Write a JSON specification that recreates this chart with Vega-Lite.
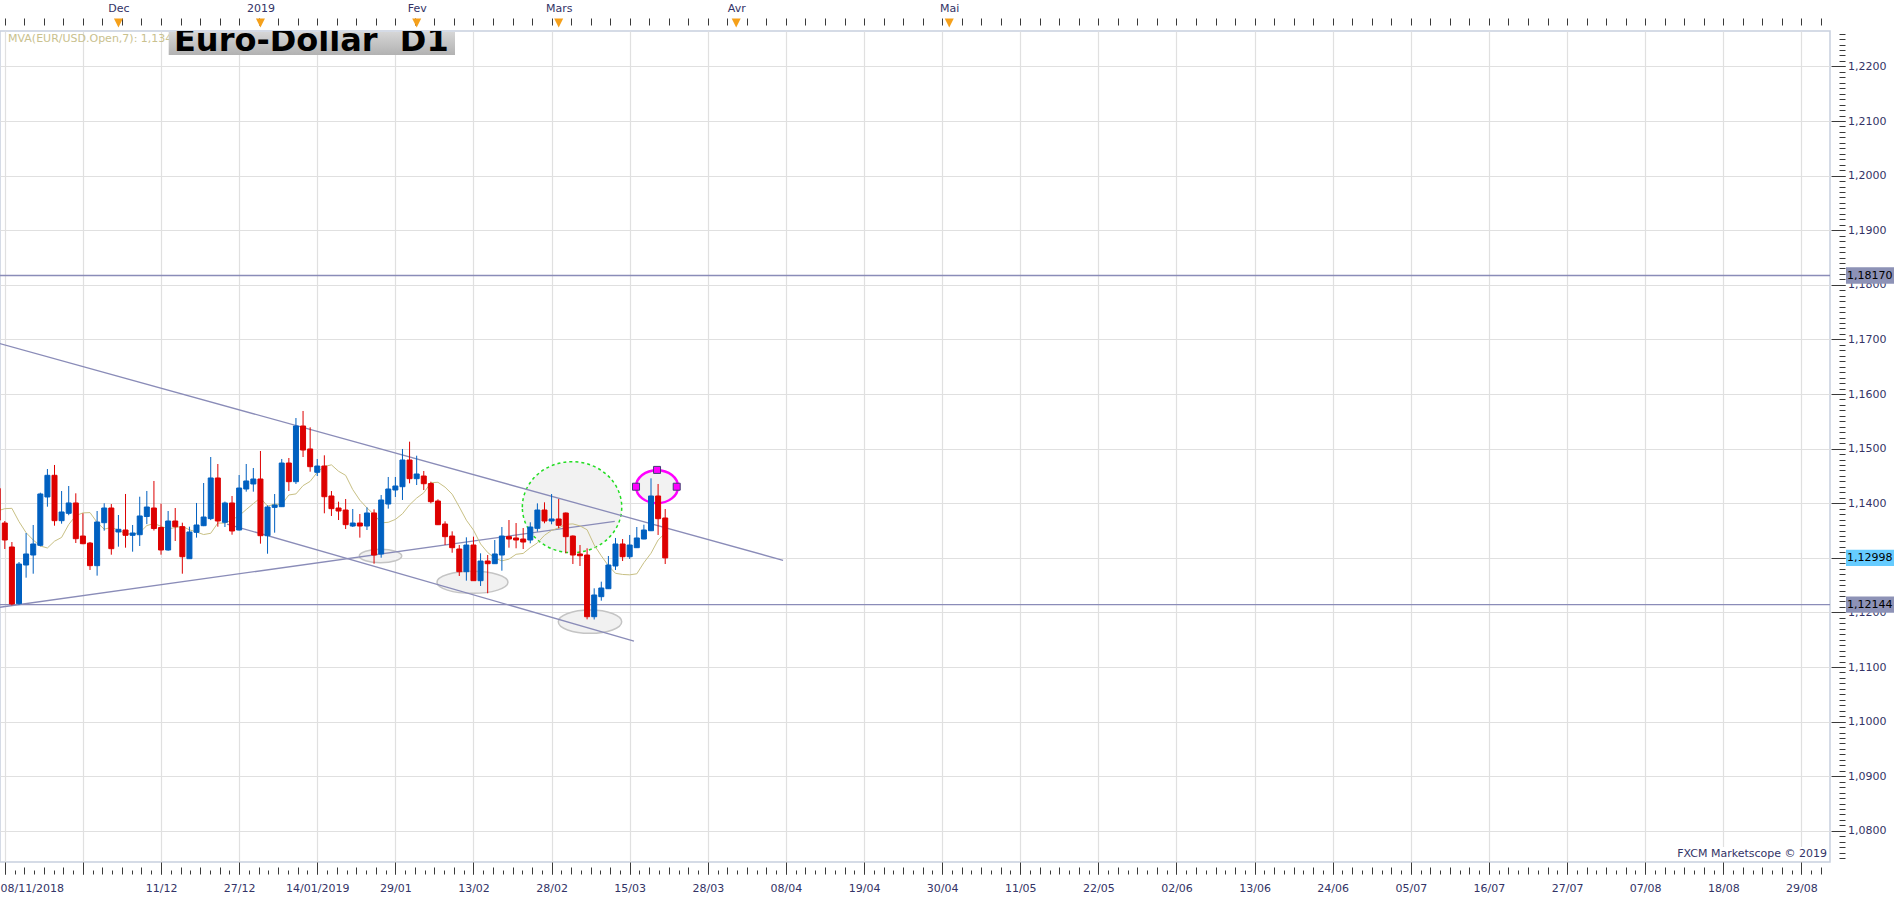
{
  "$schema": "https://vega.github.io/schema/vega-lite/v6.json",
  "width": 1830,
  "height": 831,
  "autosize": "none",
  "padding": {"left": 0, "top": 31, "right": 73, "bottom": 38},
  "background": "#ffffff",
  "config": {
    "view": {"stroke": "#c8d0de", "strokeWidth": 1.5},
    "font": "DejaVu Sans",
    "scale": {"continuousPadding": 0},
    "axis": {"labelFont": "DejaVu Sans", "labelFontSize": 11, "labelColor": "#333366", "tickColor": "#3a3a3a", "domainColor": "#3a3a3a", "gridColor": "#e0e0e0", "gridWidth": 1.2, "title": null}
  },
  "datasets": {
    "candles": [
      {"s":-1,"o":1.1427,"h":1.1440,"l":1.1360,"c":1.1369,"ma":1.1386},
      {"s":0,"o":1.13637,"h":1.13674,"l":1.13161,"c":1.13326,"ma":1.139},
      {"s":1,"o":1.13198,"h":1.13289,"l":1.1213,"c":1.12154,"ma":1.13906},
      {"s":2,"o":1.1216,"h":1.12923,"l":1.1214,"c":1.12886,"ma":1.13662},
      {"s":3,"o":1.12868,"h":1.13454,"l":1.12636,"c":1.1307,"ma":1.1346},
      {"s":4,"o":1.13051,"h":1.13601,"l":1.12709,"c":1.13253,"ma":1.13326},
      {"s":5,"o":1.13229,"h":1.14193,"l":1.1321,"c":1.14169,"ma":1.13216},
      {"s":6,"o":1.14114,"h":1.14626,"l":1.13936,"c":1.14511,"ma":1.1318},
      {"s":7,"o":1.14511,"h":1.147,"l":1.13588,"c":1.1368,"ma":1.13304},
      {"s":8,"o":1.1368,"h":1.14223,"l":1.13625,"c":1.13839,"ma":1.13373},
      {"s":9,"o":1.13815,"h":1.14315,"l":1.1378,"c":1.14004,"ma":1.1361},
      {"s":10,"o":1.14004,"h":1.14181,"l":1.13271,"c":1.1335,"ma":1.13772},
      {"s":11,"o":1.13399,"h":1.13815,"l":1.1325,"c":1.13258,"ma":1.13822},
      {"s":12,"o":1.1327,"h":1.1329,"l":1.12777,"c":1.12856,"ma":1.13828},
      {"s":13,"o":1.12856,"h":1.13857,"l":1.12673,"c":1.13656,"ma":1.13648},
      {"s":14,"o":1.13643,"h":1.13998,"l":1.13497,"c":1.13912,"ma":1.13524},
      {"s":15,"o":1.13912,"h":1.13985,"l":1.13057,"c":1.13167,"ma":1.13557},
      {"s":16,"o":1.13473,"h":1.13784,"l":1.13204,"c":1.13522,"ma":1.13508},
      {"s":17,"o":1.13509,"h":1.14169,"l":1.13185,"c":1.13412,"ma":1.13437},
      {"s":18,"o":1.13412,"h":1.13601,"l":1.13112,"c":1.13454,"ma":1.13439},
      {"s":19,"o":1.13423,"h":1.14119,"l":1.13216,"c":1.13766,"ma":1.13461},
      {"s":20,"o":1.13756,"h":1.14224,"l":1.13617,"c":1.1393,"ma":1.1359},
      {"s":21,"o":1.13912,"h":1.14407,"l":1.135,"c":1.13536,"ma":1.13628},
      {"s":22,"o":1.13555,"h":1.13991,"l":1.13057,"c":1.13143,"ma":1.13577},
      {"s":23,"o":1.13143,"h":1.13857,"l":1.1313,"c":1.13674,"ma":1.1353},
      {"s":24,"o":1.13674,"h":1.13912,"l":1.13308,"c":1.1357,"ma":1.13554},
      {"s":25,"o":1.1357,"h":1.13643,"l":1.12709,"c":1.1302,"ma":1.13576},
      {"s":26,"o":1.12984,"h":1.1357,"l":1.1298,"c":1.13473,"ma":1.13513},
      {"s":27,"o":1.13467,"h":1.14004,"l":1.13369,"c":1.13601,"ma":1.13472},
      {"s":28,"o":1.13588,"h":1.1437,"l":1.1358,"c":1.13747,"ma":1.13426},
      {"s":29,"o":1.13717,"h":1.14846,"l":1.1369,"c":1.14462,"ma":1.13449},
      {"s":30,"o":1.14462,"h":1.14718,"l":1.1357,"c":1.13674,"ma":1.13637},
      {"s":31,"o":1.1365,"h":1.1403,"l":1.13564,"c":1.14004,"ma":1.13634},
      {"s":32,"o":1.14004,"h":1.14132,"l":1.13423,"c":1.13491,"ma":1.13696},
      {"s":33,"o":1.13509,"h":1.14516,"l":1.135,"c":1.14278,"ma":1.13771},
      {"s":34,"o":1.1426,"h":1.14718,"l":1.14211,"c":1.14407,"ma":1.13884},
      {"s":35,"o":1.14352,"h":1.14645,"l":1.14211,"c":1.14443,"ma":1.13993},
      {"s":36,"o":1.14443,"h":1.14956,"l":1.13259,"c":1.13405,"ma":1.14097},
      {"s":37,"o":1.13405,"h":1.1396,"l":1.13075,"c":1.1393,"ma":1.13946},
      {"s":38,"o":1.13924,"h":1.14168,"l":1.1346,"c":1.13967,"ma":1.13985},
      {"s":39,"o":1.13936,"h":1.1481,"l":1.1393,"c":1.14736,"ma":1.13976},
      {"s":40,"o":1.14736,"h":1.14828,"l":1.14223,"c":1.14394,"ma":1.14151},
      {"s":41,"o":1.14394,"h":1.1556,"l":1.14352,"c":1.15414,"ma":1.1417},
      {"s":42,"o":1.15414,"h":1.15689,"l":1.14846,"c":1.14974,"ma":1.14322},
      {"s":43,"o":1.14993,"h":1.1539,"l":1.14577,"c":1.14669,"ma":1.144},
      {"s":44,"o":1.14566,"h":1.1481,"l":1.14498,"c":1.14681,"ma":1.14566},
      {"s":45,"o":1.14681,"h":1.14877,"l":1.13815,"c":1.14119,"ma":1.14674},
      {"s":46,"o":1.14132,"h":1.14223,"l":1.13766,"c":1.139,"ma":1.14702},
      {"s":47,"o":1.13912,"h":1.14028,"l":1.13692,"c":1.13857,"ma":1.14585},
      {"s":48,"o":1.13875,"h":1.14077,"l":1.13527,"c":1.13607,"ma":1.1451},
      {"s":49,"o":1.13582,"h":1.13894,"l":1.13564,"c":1.13637,"ma":1.14249},
      {"s":50,"o":1.13637,"h":1.13802,"l":1.13369,"c":1.13582,"ma":1.14055},
      {"s":51,"o":1.13582,"h":1.13924,"l":1.13509,"c":1.13821,"ma":1.13914},
      {"s":52,"o":1.13821,"h":1.13888,"l":1.12892,"c":1.13051,"ma":1.13792},
      {"s":53,"o":1.1307,"h":1.1415,"l":1.13002,"c":1.14059,"ma":1.1364},
      {"s":54,"o":1.13985,"h":1.1448,"l":1.139,"c":1.1426,"ma":1.1365},
      {"s":55,"o":1.14242,"h":1.1448,"l":1.14114,"c":1.14315,"ma":1.13703},
      {"s":56,"o":1.14302,"h":1.14993,"l":1.14059,"c":1.14791,"ma":1.13806},
      {"s":57,"o":1.14791,"h":1.15127,"l":1.14364,"c":1.14449,"ma":1.1397},
      {"s":58,"o":1.14449,"h":1.1487,"l":1.14333,"c":1.14535,"ma":1.14094},
      {"s":59,"o":1.14498,"h":1.1459,"l":1.14242,"c":1.14357,"ma":1.14191},
      {"s":60,"o":1.1436,"h":1.14394,"l":1.13998,"c":1.14028,"ma":1.14375},
      {"s":61,"o":1.1404,"h":1.14071,"l":1.136,"c":1.13606,"ma":1.14383},
      {"s":62,"o":1.13619,"h":1.13668,"l":1.13234,"c":1.13387,"ma":1.14294},
      {"s":63,"o":1.13399,"h":1.13485,"l":1.13093,"c":1.13185,"ma":1.14165},
      {"s":64,"o":1.13161,"h":1.13234,"l":1.12667,"c":1.12746,"ma":1.13932},
      {"s":65,"o":1.12746,"h":1.13375,"l":1.12581,"c":1.13234,"ma":1.13689},
      {"s":66,"o":1.13234,"h":1.13387,"l":1.1258,"c":1.12581,"ma":1.13508},
      {"s":67,"o":1.12581,"h":1.13082,"l":1.12484,"c":1.12941,"ma":1.13254},
      {"s":68,"o":1.12941,"h":1.13051,"l":1.1235,"c":1.12892,"ma":1.13097},
      {"s":69,"o":1.12892,"h":1.13326,"l":1.1289,"c":1.1307,"ma":1.12993},
      {"s":70,"o":1.13051,"h":1.13564,"l":1.12764,"c":1.13399,"ma":1.12944},
      {"s":71,"o":1.13387,"h":1.13692,"l":1.13185,"c":1.13344,"ma":1.12976},
      {"s":72,"o":1.13363,"h":1.13637,"l":1.13174,"c":1.13326,"ma":1.13064},
      {"s":73,"o":1.13344,"h":1.13546,"l":1.13161,"c":1.13289,"ma":1.1308},
      {"s":74,"o":1.13326,"h":1.1365,"l":1.13265,"c":1.13564,"ma":1.13186},
      {"s":75,"o":1.1354,"h":1.13998,"l":1.13479,"c":1.13875,"ma":1.13272},
      {"s":76,"o":1.13875,"h":1.14016,"l":1.13632,"c":1.13674,"ma":1.13412},
      {"s":77,"o":1.13674,"h":1.14168,"l":1.13614,"c":1.13711,"ma":1.13501},
      {"s":78,"o":1.13711,"h":1.14077,"l":1.1354,"c":1.13595,"ma":1.13548},
      {"s":79,"o":1.1382,"h":1.1383,"l":1.13082,"c":1.13387,"ma":1.13613},
      {"s":80,"o":1.13399,"h":1.1341,"l":1.12886,"c":1.13051,"ma":1.13621},
      {"s":81,"o":1.1307,"h":1.13234,"l":1.1285,"c":1.13038,"ma":1.13584},
      {"s":82,"o":1.13051,"h":1.13174,"l":1.11873,"c":1.11921,"ma":1.13514},
      {"s":83,"o":1.11921,"h":1.12441,"l":1.1187,"c":1.12319,"ma":1.13235},
      {"s":84,"o":1.12288,"h":1.12563,"l":1.12214,"c":1.12447,"ma":1.13037},
      {"s":85,"o":1.12434,"h":1.13033,"l":1.1243,"c":1.12868,"ma":1.12855},
      {"s":86,"o":1.1285,"h":1.13363,"l":1.12777,"c":1.13253,"ma":1.12716},
      {"s":87,"o":1.13253,"h":1.13344,"l":1.12941,"c":1.1302,"ma":1.12695},
      {"s":88,"o":1.1302,"h":1.13418,"l":1.12978,"c":1.13234,"ma":1.12688},
      {"s":89,"o":1.13185,"h":1.13564,"l":1.1318,"c":1.13363,"ma":1.12707},
      {"s":90,"o":1.13344,"h":1.13606,"l":1.1334,"c":1.13509,"ma":1.12911},
      {"s":91,"o":1.13496,"h":1.14455,"l":1.1349,"c":1.14132,"ma":1.13083},
      {"s":92,"o":1.14132,"h":1.14352,"l":1.13418,"c":1.13716,"ma":1.13326},
      {"s":93,"o":1.13729,"h":1.13894,"l":1.12886,"c":1.12998,"ma":1.13451}
    ],
    "trend": [
      {"id":"upper","s":-1,"p":1.16934},{"id":"upper","s":109.6,"p":1.12954},
      {"id":"lower","s":31.29,"p":1.13619},{"id":"lower","s":88.6,"p":1.11476},
      {"id":"rising","s":-1,"p":1.12088},{"id":"rising","s":85.9,"p":1.13669}
    ],
    "levels": [{"p":1.1817},{"p":1.12144}],
    "tags": [{"p":1.1817,"t":"1,18170","k":"h"},{"p":1.12144,"t":"1,12144","k":"h"},{"p":1.12998,"t":"1,12998","k":"c"}],
    "months": [{"s":16},{"s":36},{"s":58},{"s":78},{"s":103},{"s":133}],
    "handles": [{"s":88.89,"p":1.14302},{"s":91.85,"p":1.1461},{"s":94.62,"p":1.14302}]
  },
  "resolve": {"axis": {"x": "independent", "y": "independent"}},
  "layer": [
    {
      "data": {"values": [{"s":52.91,"p":1.13033}]},
      "mark": {"type":"point","shape":"M-1,0C-1,-0.1745 -0.5523,-0.316 0,-0.316C0.5523,-0.316 1,-0.1745 1,0C1,0.1745 0.5523,0.316 0,0.316C-0.5523,0.316 -1,0.1745 -1,0Z","size":1798,"filled":true,"fill":"#f1f1f1","stroke":"#c4c4c4","strokeWidth":1.5,"opacity":1},
      "encoding": {
        "x": {"field":"s","type":"quantitative","scale":{"domain":[-0.676,257.03],"nice":false,"zero":false,"padding":0},
              "axis":{"orient":"bottom","offset":12,"values":[0,2.75,5.5,8.25,11,13.75,16.5,19.25,22,24.75,27.5,30.25,33,35.75,38.5,41.25,44,46.75,49.5,52.25,55,57.75,60.5,63.25,66,68.75,71.5,74.25,77,79.75,82.5,85.25,88,90.75,93.5,96.25,99,101.75,104.5,107.25,110,112.75,115.5,118.25,121,123.75,126.5,129.25,132,134.75,137.5,140.25,143,145.75,148.5,151.25,154,156.75,159.5,162.25,165,167.75,170.5,173.25,176,178.75,181.5,184.25,187,189.75,192.5,195.25,198,200.75,203.5,206.25,209,211.75,214.5,217.25,220,222.75,225.5,228.25,231,233.75,236.5,239.25,242,244.75,247.5,250.25,253,255.75],
                      "labels":false,"grid":false,"domain":false,"ticks":true,"tickSize":-7}},
        "y": {"field":"p","type":"quantitative","scale":{"domain":[1.074286,1.226484],"nice":false,"zero":false},"axis":null}
      }
    },
    {
      "data": {"values": [{"s":65.86,"p":1.12551}]},
      "mark": {"type":"point","shape":"M-1,0C-1,-0.1712 -0.5523,-0.31 0,-0.31C0.5523,-0.31 1,-0.1712 1,0C1,0.1712 0.5523,0.31 0,0.31C-0.5523,0.31 -1,0.1712 -1,0Z","size":5041,"filled":true,"fill":"#f1f1f1","stroke":"#c4c4c4","strokeWidth":1.5,"opacity":1},
      "encoding": {
        "x": {"field":"s","type":"quantitative","scale":{"domain":[-0.676,257.03],"nice":false,"zero":false,"padding":0},"axis":null},
        "y": {"field":"p","type":"quantitative","scale":{"domain":[1.074286,1.226484],"nice":false,"zero":false},"axis":null}
      }
    },
    {
      "data": {"values": [{"s":82.41,"p":1.1183}]},
      "mark": {"type":"point","shape":"M-1,0C-1,-0.203 -0.5523,-0.3675 0,-0.3675C0.5523,-0.3675 1,-0.203 1,0C1,0.203 0.5523,0.3675 0,0.3675C-0.5523,0.3675 -1,0.203 -1,0Z","size":4020,"filled":true,"fill":"#f1f1f1","stroke":"#c4c4c4","strokeWidth":1.5,"opacity":1},
      "encoding": {
        "x": {"field":"s","type":"quantitative","scale":{"domain":[-0.676,257.03],"nice":false,"zero":false,"padding":0},"axis":null},
        "y": {"field":"p","type":"quantitative","scale":{"domain":[1.074286,1.226484],"nice":false,"zero":false},"axis":null}
      }
    },
    {
      "data": {"values": [{"s":79.88,"p":1.13927}]},
      "mark": {"type":"point","shape":"M-1,0C-1,-0.5056 -0.5523,-0.9155 0,-0.9155C0.5523,-0.9155 1,-0.5056 1,0C1,0.5056 0.5523,0.9155 0,0.9155C-0.5523,0.9155 -1,0.5056 -1,0Z","size":9880,"filled":true,"fill":"#f2f2f2","stroke":"#22dd22","strokeWidth":1.5,"strokeDash":[3,3],"opacity":1},
      "encoding": {
        "x": {"field":"s","type":"quantitative","scale":{"domain":[-0.676,257.03],"nice":false,"zero":false,"padding":0},"axis":null},
        "y": {"field":"p","type":"quantitative","scale":{"domain":[1.074286,1.226484],"nice":false,"zero":false},"axis":null}
      }
    },
    {
      "data": {"values": [{"s":91.85,"p":1.14302}]},
      "mark": {"type":"point","shape":"M-1,0C-1,-0.434 -0.5523,-0.786 0,-0.786C0.5523,-0.786 1,-0.434 1,0C1,0.434 0.5523,0.786 0,0.786C-0.5523,0.786 -1,0.434 -1,0Z","size":1764,"filled":true,"fill":"#f2f2f2","stroke":"#ff00ff","strokeWidth":2.5,"opacity":1},
      "encoding": {
        "x": {"field":"s","type":"quantitative","scale":{"domain":[-0.676,257.03],"nice":false,"zero":false,"padding":0},"axis":null},
        "y": {"field":"p","type":"quantitative","scale":{"domain":[1.074286,1.226484],"nice":false,"zero":false},"axis":null}
      }
    },
    {
      "data": {"name": "levels"},
      "mark": {"type":"rule","color":"#8a8cb8","strokeWidth":1.3},
      "encoding": {
        "y": {"field":"p","type":"quantitative","scale":{"domain":[1.074286,1.226484],"nice":false,"zero":false},"axis":null}
      }
    },
    {
      "data": {"name": "trend"},
      "mark": {"type":"line","color":"#8a8cb8","strokeWidth":1.3,"clip":true},
      "encoding": {
        "x": {"field":"s","type":"quantitative","scale":{"domain":[-0.676,257.03],"nice":false,"zero":false,"padding":0},
              "axis":{"orient":"top","offset":13,"values":[0,2.75,5.5,8.25,11,13.75,16.5,19.25,22,24.75,27.5,30.25,33,35.75,38.5,41.25,44,46.75,49.5,52.25,55,57.75,60.5,63.25,66,68.75,71.5,74.25,77,79.75,82.5,85.25,88,90.75,93.5,96.25,99,101.75,104.5,107.25,110,112.75,115.5,118.25,121,123.75,126.5,129.25,132,134.75,137.5,140.25,143,145.75,148.5,151.25,154,156.75,159.5,162.25,165,167.75,170.5,173.25,176,178.75,181.5,184.25,187,189.75,192.5,195.25,198,200.75,203.5,206.25,209,211.75,214.5,217.25,220,222.75,225.5,228.25,231,233.75,236.5,239.25,242,244.75,247.5,250.25,253,255.75],
                      "labels":false,"grid":false,"domain":false,"ticks":true,"tickSize":-7}},
        "y": {"field":"p","type":"quantitative","scale":{"domain":[1.074286,1.226484],"nice":false,"zero":false},"axis":null},
        "detail": {"field":"id","type":"nominal"}
      }
    },
    {
      "data": {"name": "candles"},
      "mark": {"type":"line","color":"#c8c084","strokeWidth":1,"clip":true},
      "encoding": {
        "x": {"field":"s","type":"quantitative","scale":{"domain":[-0.676,257.03],"nice":false,"zero":false,"padding":0},
              "axis":{"orient":"top","offset":13,"values":[16,36,58,78,103,133],"labelExpr":"datum.value==16?'Dec':datum.value==36?'2019':datum.value==58?'Fev':datum.value==78?'Mars':datum.value==103?'Avr':'Mai'","grid":false,"domain":false,"ticks":true,"tickSize":0,"tickOpacity":0,"labelPadding":5,"labelOverlap":false}},
        "y": {"field":"ma","type":"quantitative","scale":{"domain":[1.074286,1.226484],"nice":false,"zero":false},"axis":null}
      }
    },
    {
      "data": {"name": "candles"},
      "mark": {"type":"rule","strokeWidth":1,"clip":true},
      "encoding": {
        "x": {"field":"s","type":"quantitative","scale":{"domain":[-0.676,257.03],"nice":false,"zero":false,"padding":0},
              "axis":{"orient":"bottom","offset":12,"values":[0,11,22,33,44,55,66,77,88,99,110,121,132,143,154,165,176,187,198,209,220,231,242,253],
                      "labelExpr":"['08/11/2018','','11/12','27/12','14/01/2019','29/01','13/02','28/02','15/03','28/03','08/04','19/04','30/04','11/05','22/05','02/06','13/06','24/06','05/07','16/07','27/07','07/08','18/08','29/08'][round(datum.value/11)]",
                      "grid":true,"domain":false,"ticks":true,"tickSize":-12,"labelPadding":20,"labelFlush":10,"labelFlushOffset":4.8,"labelOverlap":false,"labelBound":false}},
        "y": {"field":"l","type":"quantitative","scale":{"domain":[1.074286,1.226484],"nice":false,"zero":false},
              "axis":{"orient":"right","offset":15,"values":[1.08,1.09,1.1,1.11,1.12,1.13,1.14,1.15,1.16,1.17,1.18,1.19,1.2,1.21,1.22],
                      "labelExpr":"replace(format(datum.value,'.4f'),'.',',')","grid":true,"domain":false,"ticks":true,"tickSize":-14,"labelPadding":16.5,"labelAlign":"left","labelBaseline":"middle","labelOverlap":false}},
        "y2": {"field":"h"},
        "color": {"condition": {"test":"datum.c >= datum.o","value":"#0060c0"},"value":"#dd0000"}
      }
    },
    {
      "data": {"name": "candles"},
      "mark": {"type":"bar","width":5,"strokeWidth":1,"clip":true},
      "encoding": {
        "x": {"field":"s","type":"quantitative","scale":{"domain":[-0.676,257.03],"nice":false,"zero":false,"padding":0},
              "axis":{"orient":"bottom","offset":12,"values":[1.375,4.125,6.875,9.625,12.375,15.125,17.875,20.625,23.375,26.125,28.875,31.625,34.375,37.125,39.875,42.625,45.375,48.125,50.875,53.625,56.375,59.125,61.875,64.625,67.375,70.125,72.875,75.625,78.375,81.125,83.875,86.625,89.375,92.125,94.875,97.625,100.375,103.125,105.875,108.625,111.375,114.125,116.875,119.625,122.375,125.125,127.875,130.625,133.375,136.125,138.875,141.625,144.375,147.125,149.875,152.625,155.375,158.125,160.875,163.625,166.375,169.125,171.875,174.625,177.375,180.125,182.875,185.625,188.375,191.125,193.875,196.625,199.375,202.125,204.875,207.625,210.375,213.125,215.875,218.625,221.375,224.125,226.875,229.625,232.375,235.125,237.875,240.625,243.375,246.125,248.875,251.625,254.375],
                      "labels":false,"grid":false,"domain":false,"ticks":true,"tickSize":-4}},
        "y": {"field":"o","type":"quantitative","scale":{"domain":[1.074286,1.226484],"nice":false,"zero":false},
              "axis":{"orient":"right","offset":15,"tickCount":152,"labels":false,"grid":false,"domain":false,"ticks":true,"tickSize":-6}},
        "y2": {"field":"c"},
        "fill": {"condition": {"test":"datum.c >= datum.o","value":"#0060c0"},"value":"#dd0000"},
        "stroke": {"condition": {"test":"datum.c >= datum.o","value":"#0060c0"},"value":"#dd0000"}
      }
    },
    {
      "data": {"name": "handles"},
      "mark": {"type":"point","shape":"square","size":49,"filled":true,"fill":"#ff00ff","stroke":"#404070","strokeWidth":1,"opacity":1},
      "encoding": {
        "x": {"field":"s","type":"quantitative","scale":{"domain":[-0.676,257.03],"nice":false,"zero":false,"padding":0},"axis":null},
        "y": {"field":"p","type":"quantitative","scale":{"domain":[1.074286,1.226484],"nice":false,"zero":false},"axis":null}
      }
    },
    {
      "data": {"values": [{}]},
      "mark": {"type":"text","text":"MVA(EUR/USD.Open,7): 1,1345","x":8,"y":8,"align":"left","baseline":"middle","fontSize":11,"font":"DejaVu Sans","color":"#c9c18e"}
    },
    {
      "data": {"values": [{}]},
      "mark": {"type":"rect","x":168.7,"x2":455,"y":1,"y2":24,
               "fill":{"gradient":"linear","x1":0,"y1":0,"x2":0,"y2":1,"stops":[{"offset":0,"color":"#d6d6d6"},{"offset":1,"color":"#b2b2b2"}]}}
    },
    {
      "data": {"values": [{}]},
      "mark": {"type":"text","text":"Euro-Dollar\u00a0\u00a0D1","x":174,"y":19.5,"align":"left","baseline":"alphabetic","fontSize":32,"fontWeight":"bold","font":"DejaVu Sans","color":"#000000","clip":true}
    },
    {
      "data": {"values": [{}]},
      "mark": {"type":"rect","x":{"expr":"width-152"},"x2":{"expr":"width-1"},"y":{"expr":"height-15"},"y2":{"expr":"height-1"},"fill":"#ffffff"}
    },
    {
      "data": {"values": [{}]},
      "mark": {"type":"text","text":"FXCM Marketscope © 2019","x":{"expr":"width-3"},"y":{"expr":"height-8"},"align":"right","baseline":"middle","fontSize":11,"font":"DejaVu Sans","color":"#333366"}
    },
    {
      "data": {"values": [{}]},
      "mark": {"type":"rule","x":0,"x2":{"expr":"width+15"},"y":-13,"y2":-13,"color":"#3a3a3a","strokeWidth":1.5},
      "encoding": {}
    },
    {
      "data": {"values": [{}]},
      "mark": {"type":"rule","x":0,"x2":{"expr":"width+15"},"y":{"expr":"height+12"},"y2":{"expr":"height+12"},"color":"#3a3a3a","strokeWidth":1.5},
      "encoding": {}
    },
    {
      "data": {"values": [{}]},
      "mark": {"type":"rule","x":{"expr":"width+15"},"x2":{"expr":"width+15"},"y":-13,"y2":{"expr":"height+12"},"color":"#3a3a3a","strokeWidth":1.5},
      "encoding": {}
    },
    {
      "data": {"name": "tags"},
      "mark": {"type":"point","shape":"M-1,-0.34L1,-0.34L1,0.34L-1,0.34Z","size":2304,"filled":true,"opacity":1,"x":{"expr":"width+40"}},
      "encoding": {
        "y": {"field":"p","type":"quantitative","scale":{"domain":[1.074286,1.226484],"nice":false,"zero":false},"axis":null},
        "fill": {"condition": {"test":"datum.k=='c'","value":"#66ccff"},"value":"#8d92b6"}
      }
    },
    {
      "data": {"name": "tags"},
      "mark": {"type":"text","align":"left","baseline":"middle","fontSize":11,"font":"DejaVu Sans","color":"#000000","x":{"expr":"width+17"}},
      "encoding": {
        "y": {"field":"p","type":"quantitative","scale":{"domain":[1.074286,1.226484],"nice":false,"zero":false},"axis":null},
        "text": {"field":"t"}
      }
    },
    {
      "data": {"name": "months"},
      "mark": {"type":"point","shape":"M-1,-1L1,-1L0,1Z","size":81,"filled":true,"fill":"#f5a01a","strokeWidth":0,"opacity":1,"y":-8},
      "encoding": {
        "x": {"field":"s","type":"quantitative","scale":{"domain":[-0.676,257.03],"nice":false,"zero":false,"padding":0},"axis":null}
      }
    }
  ]
}
